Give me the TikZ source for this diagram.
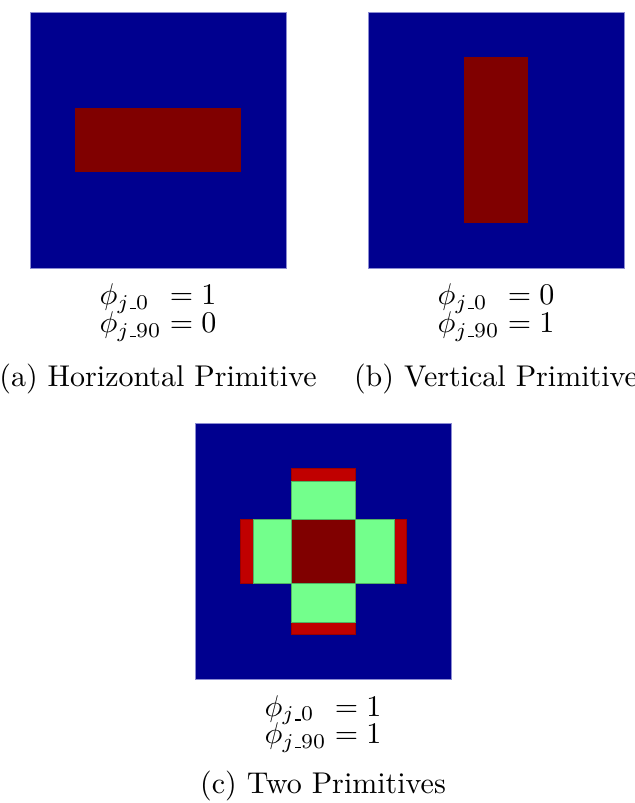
\documentclass[tikz,border=0pt]{standalone}
\usepackage{amsmath}
\definecolor{jblue}{RGB}{0,0,143}
\definecolor{jdred}{RGB}{128,0,0}
\definecolor{jred}{RGB}{192,0,0}
\definecolor{jgreen}{RGB}{115,255,140}
\definecolor{jedge}{RGB}{140,140,210}
\tikzset{
  bg/.style={fill=jblue, draw=jedge, line width=0.2pt},
  core/.style={fill=jdred},
  arm/.style={fill=jgreen, draw=jgreen!70!black, line width=0.15pt},
  tip/.style={fill=jred, draw=jred!80!black, line width=0.15pt},
  formula/.style={anchor=base, inner sep=0pt},
  caption/.style={anchor=base, inner sep=0pt}
}
\newcommand{\usc}{\text{\kern.06em\vbox{\hrule width.3em}}}
\newcommand{\phieqs}[2]{$\begin{array}[t]{@{}l@{}l@{}}\phi_{j\usc 0} & {}= #1\\[-2.67pt] \phi_{j\usc 90} & {}= #2\end{array}$}
\begin{document}
\begin{tikzpicture}[x=0.33333pt,y=-0.33333pt]
\useasboundingbox (0,0) rectangle (634,803);
% (a) horizontal primitive
\path[bg] (30,12) rectangle (286,268);
\path[core] (75,108) rectangle (241,172);
\node[formula] (fa) at (158,305) {\phieqs{1}{0}};
\node[caption] (ca) at (158,386) {(a) Horizontal Primitive};
% (b) vertical primitive
\path[bg] (368,12) rectangle (624,268);
\path[core] (464,57) rectangle (528,223);
\node[formula] (fb) at (496,305) {\phieqs{0}{1}};
\node[caption] (cb) at (496,386) {(b) Vertical Primitive};
% (c) two primitives
\path[bg] (195,423) rectangle (451,679);
\path[tip] (291,468) rectangle (355,481);
\path[tip] (291,622) rectangle (355,634);
\path[tip] (240,519) rectangle (253,583);
\path[tip] (394,519) rectangle (406,583);
\path[arm] (291,481) rectangle (355,519);
\path[arm] (291,583) rectangle (355,622);
\path[arm] (253,519) rectangle (291,583);
\path[arm] (355,519) rectangle (394,583);
\path[core, draw=jgreen!70!black, line width=0.15pt] (291,519) rectangle (355,583);
\node[formula] (fc) at (323,716) {\phieqs{1}{1}};
\node[caption] (cc) at (323,793) {(c) Two Primitives};
\end{tikzpicture}
\end{document}
